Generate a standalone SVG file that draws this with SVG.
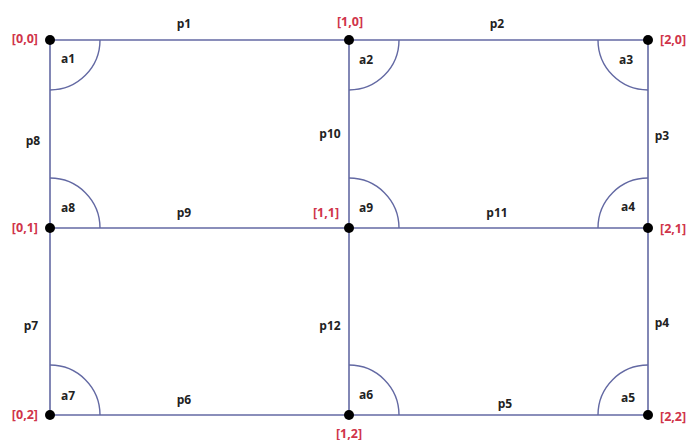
<svg xmlns="http://www.w3.org/2000/svg" width="688" height="440" viewBox="0 0 688 440">
<style>
.ln{stroke:#6369a3;stroke-width:1.6;fill:none}
.arc{stroke:#6369a3;stroke-width:1.4;fill:none}
.dot{fill:#000}
.t{font-family:"Open Sans","Liberation Sans",sans-serif;font-weight:bold;font-size:12px;fill:#222;text-anchor:middle;dominant-baseline:central}
.c{font-family:"Open Sans","Liberation Sans",sans-serif;font-weight:bold;font-size:12.5px;fill:#d0344a;dominant-baseline:central}
</style>
<rect width="688" height="440" fill="#fff"/>
<g id="edges">
<line class="ln" x1="50" y1="40" x2="648" y2="40"/>
<line class="ln" x1="50" y1="228" x2="648" y2="228"/>
<line class="ln" x1="50" y1="415" x2="648" y2="415"/>
<line class="ln" x1="50" y1="40" x2="50" y2="415"/>
<line class="ln" x1="349" y1="40" x2="349" y2="415"/>
<line class="ln" x1="648" y1="40" x2="648" y2="415"/>
<text class="t" x="184" y="23">p1</text>
<text class="t" x="497" y="23">p2</text>
<text class="t" x="662" y="135">p3</text>
<text class="t" x="662" y="322">p4</text>
<text class="t" x="505" y="403">p5</text>
<text class="t" x="184" y="399">p6</text>
<text class="t" x="31" y="325">p7</text>
<text class="t" x="33" y="140">p8</text>
<text class="t" x="184" y="212">p9</text>
<text class="t" x="330" y="133">p10</text>
<text class="t" x="497" y="212">p11</text>
<text class="t" x="330" y="325">p12</text>
</g>
<g id="angles">
<path class="arc" d="M100,40 A50,50 0 0 1 50,90"/>
<text class="t" x="68" y="58">a1</text>
<path class="arc" d="M399,40 A50,50 0 0 1 349,90"/>
<text class="t" x="366" y="59">a2</text>
<path class="arc" d="M598,40 A50,50 0 0 0 648,90"/>
<text class="t" x="626" y="59">a3</text>
<path class="arc" d="M648,178 A50,50 0 0 0 598,228"/>
<text class="t" x="628" y="206">a4</text>
<path class="arc" d="M648,365 A50,50 0 0 0 598,415"/>
<text class="t" x="628" y="397">a5</text>
<path class="arc" d="M349,365 A50,50 0 0 1 399,415"/>
<text class="t" x="366" y="394">a6</text>
<path class="arc" d="M50,365 A50,50 0 0 1 100,415"/>
<text class="t" x="68" y="395">a7</text>
<path class="arc" d="M50,178 A50,50 0 0 1 100,228"/>
<text class="t" x="68" y="207">a8</text>
<path class="arc" d="M349,178 A50,50 0 0 1 399,228"/>
<text class="t" x="366" y="207">a9</text>
</g>
<g id="n00"><circle class="dot" cx="50" cy="40" r="5"/><text class="c" x="38" y="38" text-anchor="end">[0,0]</text></g>
<g id="n10"><circle class="dot" cx="349" cy="40" r="5"/><text class="c" x="350" y="21" text-anchor="middle">[1,0]</text></g>
<g id="n20"><circle class="dot" cx="648" cy="40" r="5"/><text class="c" x="660" y="39">[2,0]</text></g>
<g id="n01"><circle class="dot" cx="50" cy="228" r="5"/><text class="c" x="38" y="227" text-anchor="end">[0,1]</text></g>
<g id="n11"><circle class="dot" cx="349" cy="228" r="5"/><text class="c" x="326" y="212" text-anchor="middle">[1,1]</text></g>
<g id="n21"><circle class="dot" cx="648" cy="228" r="5"/><text class="c" x="660" y="228">[2,1]</text></g>
<g id="n02"><circle class="dot" cx="50" cy="415" r="5"/><text class="c" x="38" y="414" text-anchor="end">[0,2]</text></g>
<g id="n12"><circle class="dot" cx="349" cy="415" r="5"/><text class="c" x="349" y="433" text-anchor="middle">[1,2]</text></g>
<g id="n22"><circle class="dot" cx="648" cy="415" r="5"/><text class="c" x="660" y="416">[2,2]</text></g>
</svg>
